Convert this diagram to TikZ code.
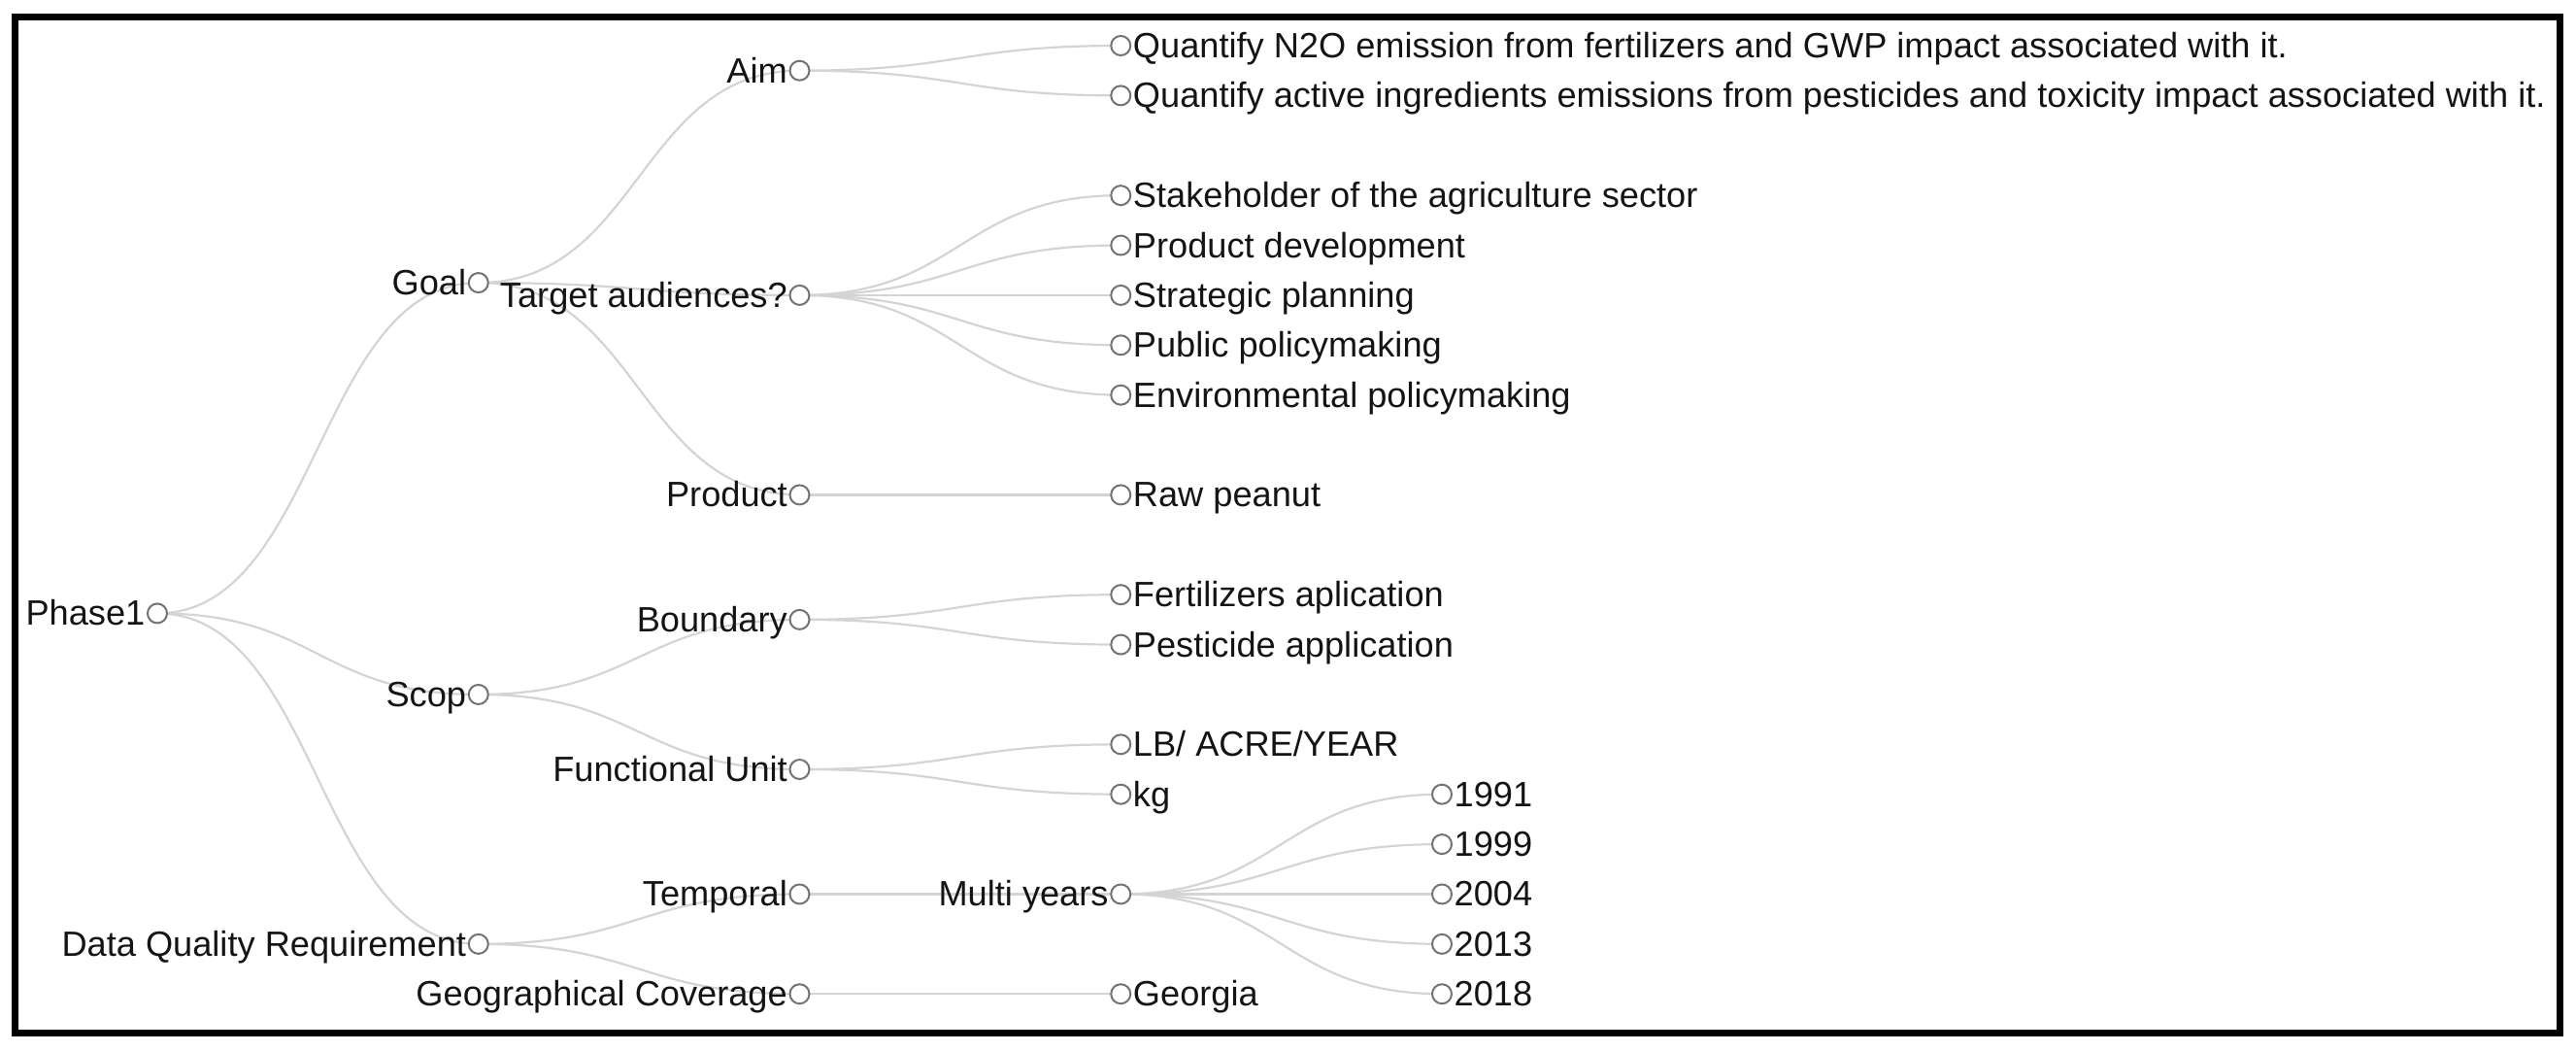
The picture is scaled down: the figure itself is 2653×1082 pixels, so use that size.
\documentclass[tikz,border=0pt]{standalone}
\usepackage{fontspec}
\setmainfont{Liberation Sans}
\usetikzlibrary{backgrounds,calc}
\tikzset{
  dot/.style={circle, draw=black!55, fill=white, line width=2pt, minimum size=20pt, inner sep=0pt},
  link/.style={draw=black!17, line width=2.2pt},
  lbl/.style={font=\fontsize{36.2}{40}\selectfont, text=black!92, inner sep=0pt},
  frame/.style={draw=black, line width=7pt},
}
\newcommand\innode[4]{%
  \node[dot] (#1) at (#2,{47+51.38*(#3)}) {};
  \node[lbl, anchor=base east] (#1-t) at ([xshift=-12.5pt,yshift=-12.5pt]#1.center) {#4};}
\newcommand\leafnode[4]{%
  \node[dot] (#1) at (#2,{47+51.38*(#3)}) {};
  \node[lbl, anchor=base west] (#1-t) at ([xshift=12.5pt,yshift=-12.5pt]#1.center) {#4};}
\newcommand\lnk[2]{%
  \draw[link] let \p1=(#1.center), \p2=(#2.center) in
    (\p1) .. controls ({(\x1+\x2)/2},\y1) and ({(\x1+\x2)/2},\y2) .. (\p2);}
\begin{document}
\begin{tikzpicture}[x=1pt,y=-1pt]
\useasboundingbox (0,0) rectangle (2653,1082);
% level 0
\innode{p}{162}{11.375}{Phase1}
% level 1
\innode{goal}{492.75}{4.75}{Goal}
\innode{scop}{492.75}{13}{Scop}
\innode{dqr}{492.75}{18}{Data Quality Requirement}
% level 2
\innode{aim}{823.5}{0.5}{Aim}
\innode{tgt}{823.5}{5}{Target audiences?}
\innode{prod}{823.5}{9}{Product}
\innode{bnd}{823.5}{11.5}{Boundary}
\innode{fu}{823.5}{14.5}{Functional Unit}
\innode{tmp}{823.5}{17}{Temporal}
\innode{geo}{823.5}{19}{Geographical Coverage}
% level 3
\leafnode{qa}{1154.25}{0}{Quantify N2O emission from fertilizers and GWP impact associated with it.}
\leafnode{qb}{1154.25}{1}{Quantify active ingredients emissions from pesticides and toxicity impact associated with it.}
\leafnode{sa}{1154.25}{3}{Stakeholder of the agriculture sector}
\leafnode{sb}{1154.25}{4}{Product development}
\leafnode{sc}{1154.25}{5}{Strategic planning}
\leafnode{sd}{1154.25}{6}{Public policymaking}
\leafnode{se}{1154.25}{7}{Environmental policymaking}
\leafnode{rp}{1154.25}{9}{Raw peanut}
\leafnode{fa}{1154.25}{11}{Fertilizers aplication}
\leafnode{pa}{1154.25}{12}{Pesticide application}
\leafnode{lb}{1154.25}{14}{LB/ ACRE/YEAR}
\leafnode{kg}{1154.25}{15}{kg}
\innode{my}{1154.25}{17}{Multi years}
\leafnode{ga}{1154.25}{19}{Georgia}
% level 4
\leafnode{ya}{1485}{15}{1991}
\leafnode{yb}{1485}{16}{1999}
\leafnode{yc}{1485}{17}{2004}
\leafnode{yd}{1485}{18}{2013}
\leafnode{ye}{1485}{19}{2018}
\begin{scope}[on background layer]
\lnk{p}{goal}\lnk{p}{scop}\lnk{p}{dqr}
\lnk{goal}{aim}\lnk{goal}{tgt}\lnk{goal}{prod}
\lnk{scop}{bnd}\lnk{scop}{fu}
\lnk{dqr}{tmp}\lnk{dqr}{geo}
\lnk{aim}{qa}\lnk{aim}{qb}
\lnk{tgt}{sa}\lnk{tgt}{sb}\lnk{tgt}{sc}\lnk{tgt}{sd}\lnk{tgt}{se}
\lnk{prod}{rp}
\lnk{bnd}{fa}\lnk{bnd}{pa}
\lnk{fu}{lb}\lnk{fu}{kg}
\lnk{tmp}{my}
\lnk{geo}{ga}
\lnk{my}{ya}\lnk{my}{yb}\lnk{my}{yc}\lnk{my}{yd}\lnk{my}{ye}
\end{scope}
\draw[frame] (15.5,17) rectangle (2636.5,1063);
\end{tikzpicture}
\end{document}
